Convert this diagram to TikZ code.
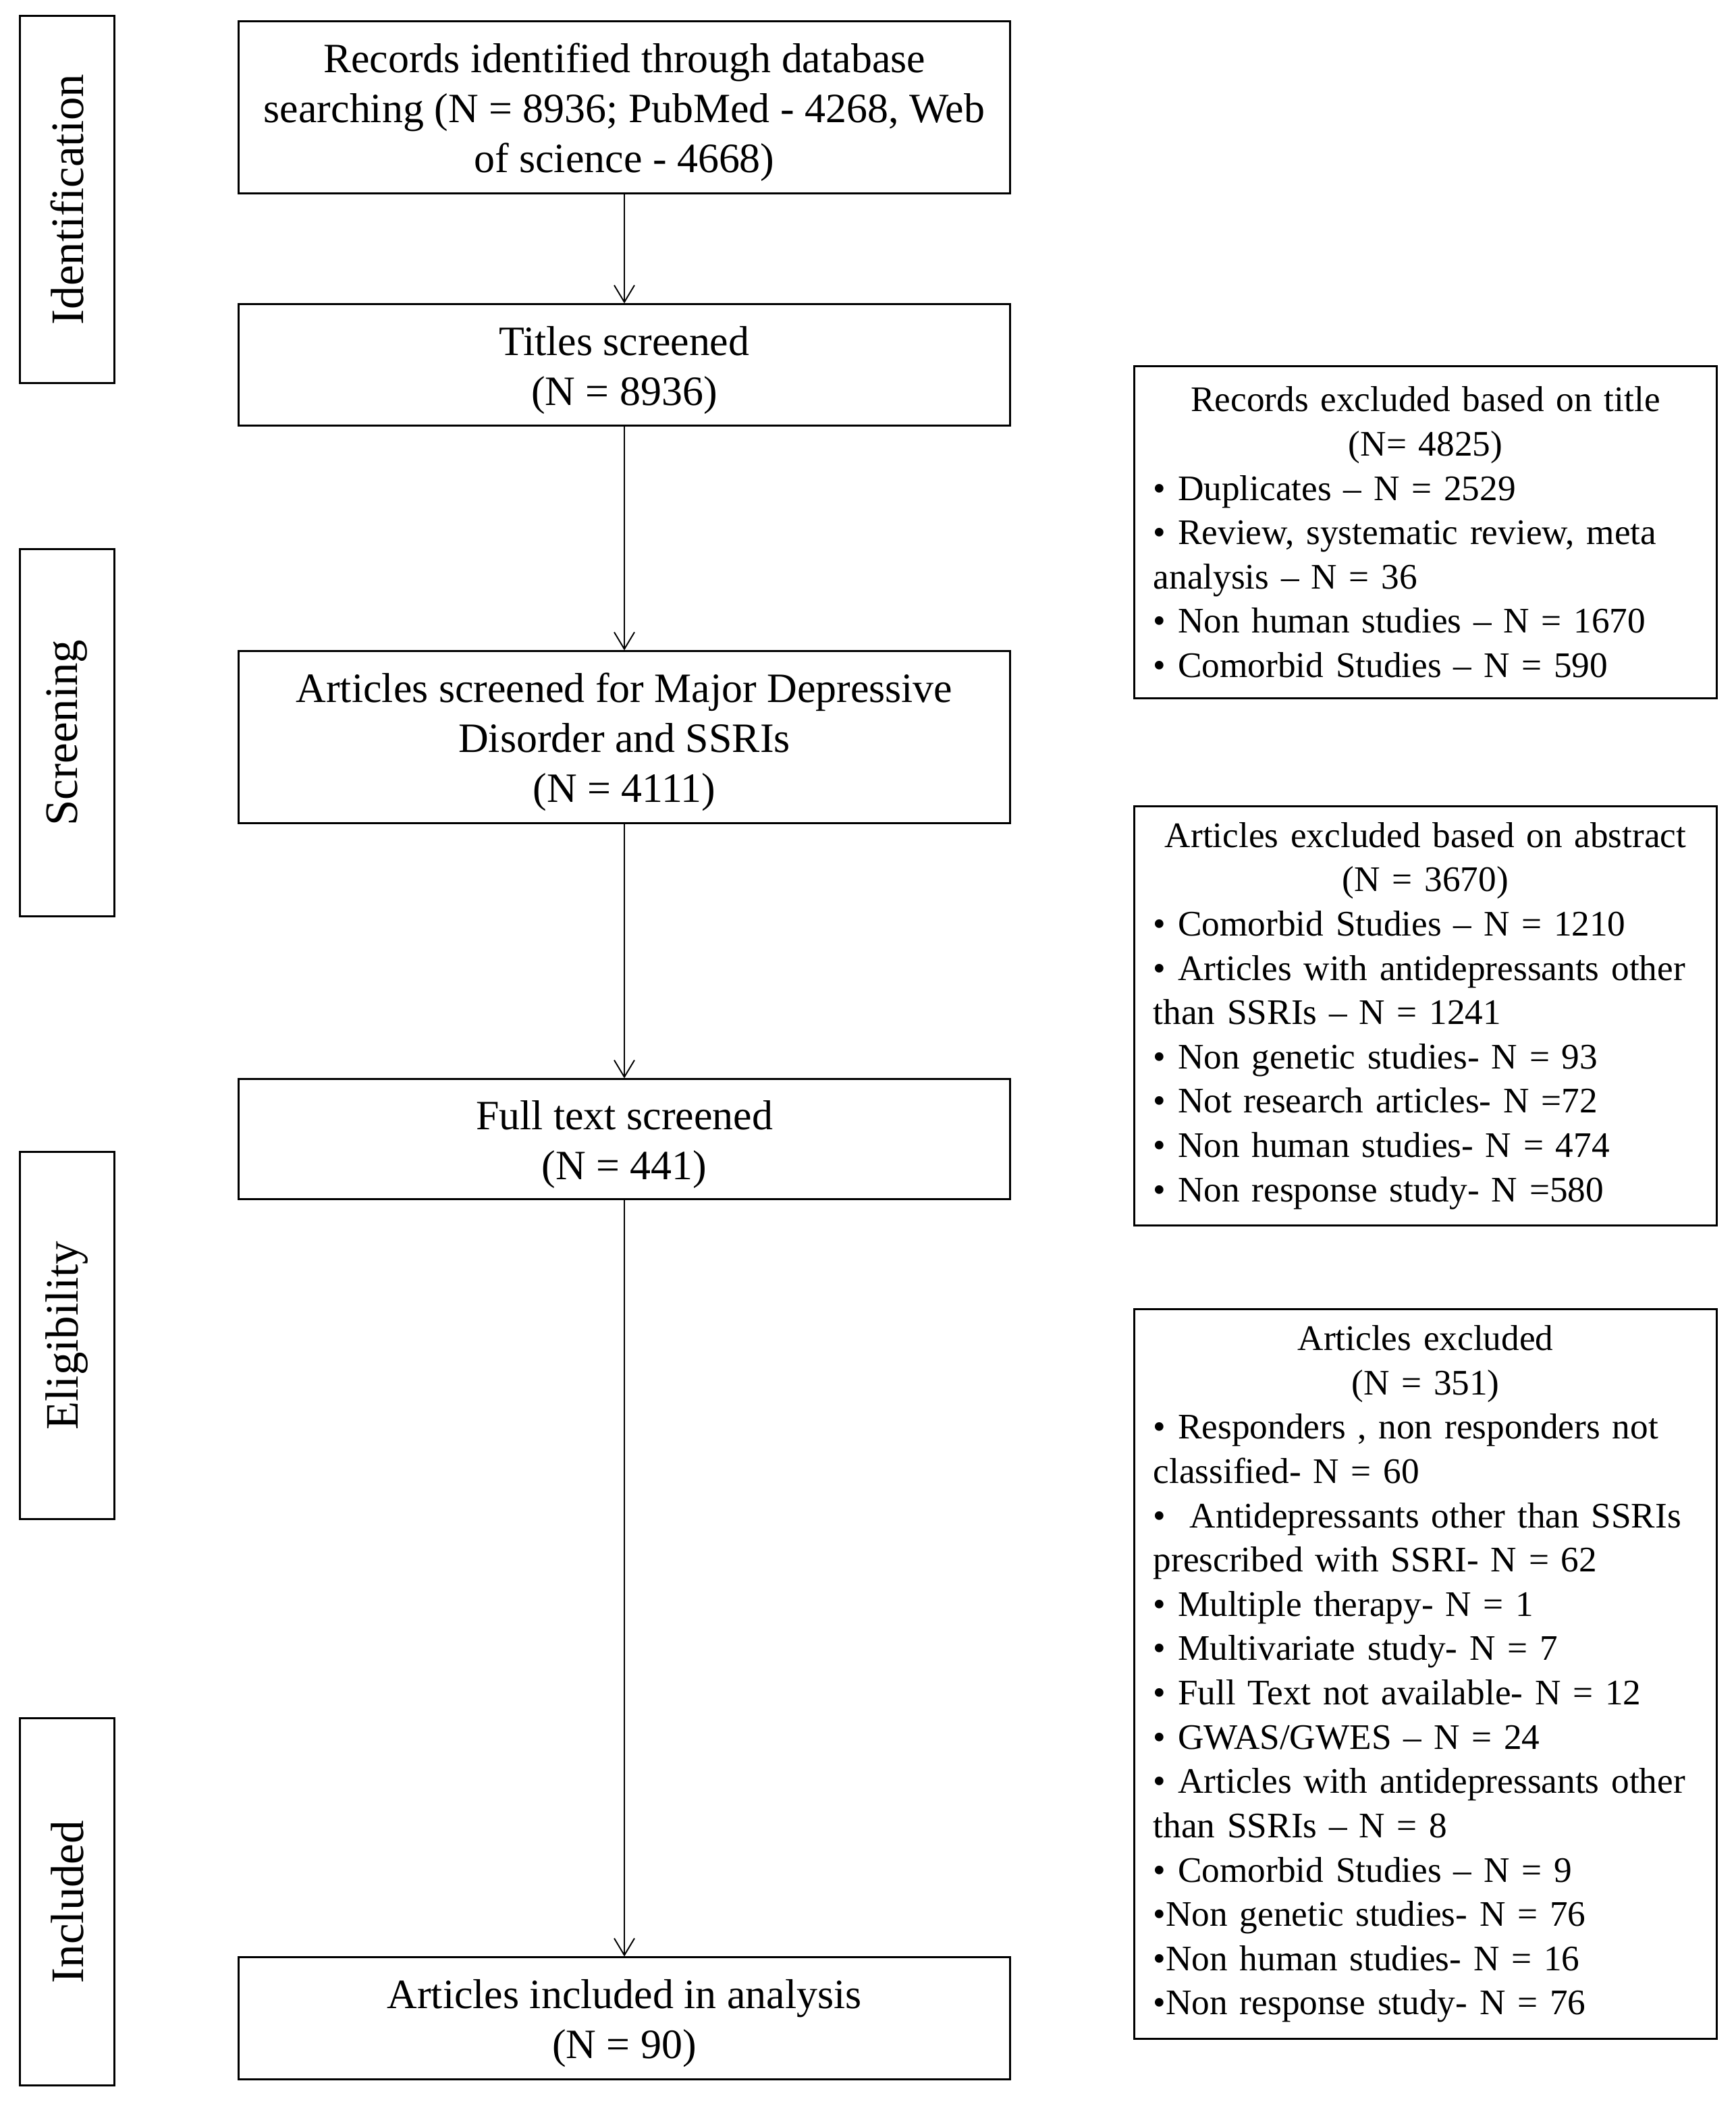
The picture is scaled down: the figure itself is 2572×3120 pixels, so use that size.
\documentclass[tikz,border=0pt]{standalone}
\usepackage{fontspec}
\setmainfont{Liberation Serif}
\usetikzlibrary{arrows.meta}
\newcommand{\mbstrut}{\rule{0pt}{0.95em}}
\begin{document}
\begin{tikzpicture}[x=0.01cm,y=-0.01cm,
 mainbox/.style={draw, line width=0.85pt, minimum width=11.42cm, align=center, font=\fontsize{17.6}{21.05}\selectfont, inner sep=0pt},
 sidebox/.style={draw, line width=0.8pt, minimum width=8.62cm, text width=8.06cm, inner xsep=0.28cm, inner ysep=0pt, font=\fontsize{15.15}{18.66}\selectfont},
 stagebox/.style={draw, line width=0.85pt, rotate=90, minimum width=5.43cm, minimum height=1.39cm, font=\fontsize{19.6}{23}\selectfont, inner sep=0pt},
 flowarrow/.style={-{Straight Barb[length=0.25cm,width=0.3cm]}, line width=0.55pt}]
\useasboundingbox (0,0) rectangle (2572,3120);

% stage labels
\node[stagebox] (s1) at (99.5,295.5) {Identification};
\node[stagebox] (s2) at (99.5,1085.5) {Screening};
\node[stagebox] (s3) at (99.5,1978.5) {Eligibility};
\node[stagebox] (s4) at (99.5,2817.5) {Included};

% main flow
\node[mainbox, minimum height=2.54cm] (b1) at (925,159) {\mbstrut Records identified through database\\searching (N = 8936; PubMed - 4268, Web\\of science - 4668)};
\node[mainbox, minimum height=1.79cm] (b2) at (925,540.5) {\mbstrut Titles screened\\(N = 8936)};
\node[mainbox, minimum height=2.54cm] (b3) at (925,1092) {\mbstrut Articles screened for Major Depressive\\Disorder and SSRIs\\(N = 4111)};
\node[mainbox, minimum height=1.77cm] (b4) at (925,1687.5) {\mbstrut Full text screened\\(N = 441)};
\node[mainbox, minimum height=1.80cm] (b5) at (925,2990) {\mbstrut Articles included in analysis\\(N = 90)};

\draw[flowarrow] (b1) -- (b2);
\draw[flowarrow] (b2) -- (b3);
\draw[flowarrow] (b3) -- (b4);
\draw[flowarrow] (b4) -- (b5);

% exclusion boxes
\node[sidebox, minimum height=4.91cm] (r1) at (2112,788.5) {\parindent=0pt\parskip=0pt\centering Records excluded based on title\\(N= 4825)\par\raggedright • Duplicates – N = 2529\\• Review, systematic review, meta\\analysis – N = 36\\• Non human studies – N = 1670\\• Comorbid Studies – N = 590\par};

\node[sidebox, minimum height=6.20cm] (r2) at (2112,1505) {\parindent=0pt\parskip=0pt\centering Articles excluded based on abstract\\(N = 3670)\par\raggedright • Comorbid Studies – N = 1210\\• Articles with antidepressants other\\than SSRIs – N = 1241\\• Non genetic studies- N = 93\\• Not research articles- N =72\\• Non human studies- N = 474\\• Non response study- N =580\par};

\node[sidebox, minimum height=10.80cm] (r3) at (2112,2480) {\parindent=0pt\parskip=0pt\centering Articles excluded\\(N = 351)\par\raggedright • Responders , non responders not\\classified- N = 60\\•\ \ Antidepressants other than SSRIs\\prescribed with SSRI- N = 62\\• Multiple therapy- N = 1\\• Multivariate study- N = 7\\• Full Text not available- N = 12\\• GWAS/GWES – N = 24\\• Articles with antidepressants other\\than SSRIs – N = 8\\• Comorbid Studies – N = 9\\•Non genetic studies- N = 76\\•Non human studies- N = 16\\•Non response study- N = 76\par};
\end{tikzpicture}
\end{document}
